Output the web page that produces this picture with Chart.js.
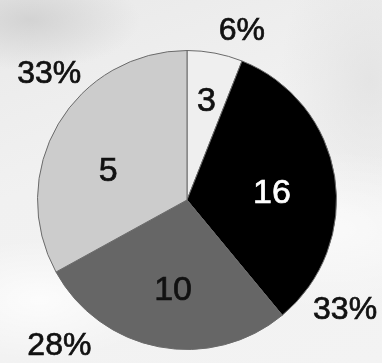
<!DOCTYPE html>
<html><head><meta charset="utf-8">
<script src="https://cdn.jsdelivr.net/npm/chart.js@4/dist/chart.umd.min.js"></script>
<style>
html,body{margin:0;padding:0;}
body{width:382px;height:363px;overflow:hidden;
background:
 radial-gradient(ellipse 120px 60px at 40px 300px, rgba(255,255,255,0.8), rgba(255,255,255,0)),
 radial-gradient(ellipse 160px 80px at 330px 230px, rgba(255,255,255,0.6), rgba(255,255,255,0)),
 radial-gradient(ellipse 110px 50px at 30px 20px, rgba(205,205,205,0.8), rgba(205,205,205,0)),
 radial-gradient(ellipse 90px 140px at 370px 80px, rgba(220,220,220,0.6), rgba(220,220,220,0)),
 linear-gradient(160deg,#e9e9e9 0%,#f1f1f1 40%,#f3f3f3 100%);}
#wrap{position:absolute;left:0;top:0;width:382px;height:363px;}
</style></head>
<body><div id="wrap"><canvas id="c" width="382" height="363"></canvas></div>
<script>
const sliceCounts = [3, 16, 10, 5];
const slicePercents = [6, 33, 28, 33];
const percentLabels = ['6%', '33%', '28%', '33%'];

const sliceColors = ['#efefef', '#000000', '#666666', '#cccccc'];
const countColors = ['#111111', '#ffffff', '#111111', '#111111'];
// [angle fraction within slice, radius factor]
const countPos = [[0.52, 0.67], [0.54, 0.57], [0.48, 0.61], [0.41, 0.56]];
const pctPos = [[0.83, 1.19], [0.87, 1.29], [0.80, 1.30], [0.60, 1.25]];

const labelPlugin = {
  id: 'labels',
  afterDatasetsDraw(chart) {
    const ctx = chart.ctx;
    const meta = chart.getDatasetMeta(0);
    ctx.save();
    ctx.textAlign = 'center';
    ctx.textBaseline = 'middle';
    ctx.lineWidth = 0.7;
    meta.data.forEach((arc, i) => {
      const p = arc.getProps(['x', 'y', 'startAngle', 'endAngle', 'outerRadius'], true);
      const span = p.endAngle - p.startAngle;
      let a = p.startAngle + span * countPos[i][0];
      let r = p.outerRadius * countPos[i][1];
      let tx = p.x + Math.cos(a) * r, ty = p.y + Math.sin(a) * r;
      ctx.font = '34px "Liberation Sans", Arial, sans-serif';
      ctx.fillStyle = countColors[i];
      ctx.strokeStyle = countColors[i];
      ctx.fillText(String(sliceCounts[i]), tx, ty);
      ctx.strokeText(String(sliceCounts[i]), tx, ty);
      a = p.startAngle + span * pctPos[i][0];
      r = p.outerRadius * pctPos[i][1];
      tx = p.x + Math.cos(a) * r; ty = p.y + Math.sin(a) * r;
      ctx.font = '32px "Liberation Sans", Arial, sans-serif';
      ctx.fillStyle = '#111111';
      ctx.strokeStyle = '#111111';
      ctx.fillText(percentLabels[i], tx, ty);
      ctx.strokeText(percentLabels[i], tx, ty);
    });
    ctx.restore();
  }
};

new Chart(document.getElementById('c'), {
  type: 'pie',
  data: {
    labels: sliceCounts.map(String),
    datasets: [{
      data: slicePercents,
      backgroundColor: sliceColors,
      borderColor: '#6a6a6a',
      borderWidth: 1
    }]
  },
  options: {
    responsive: false,
    animation: false,
    layout: { padding: { left: 37, right: 45, top: 50, bottom: 13 } },
    plugins: { legend: { display: false }, tooltip: { enabled: false } }
  },
  plugins: [labelPlugin]
});
</script></body></html>
